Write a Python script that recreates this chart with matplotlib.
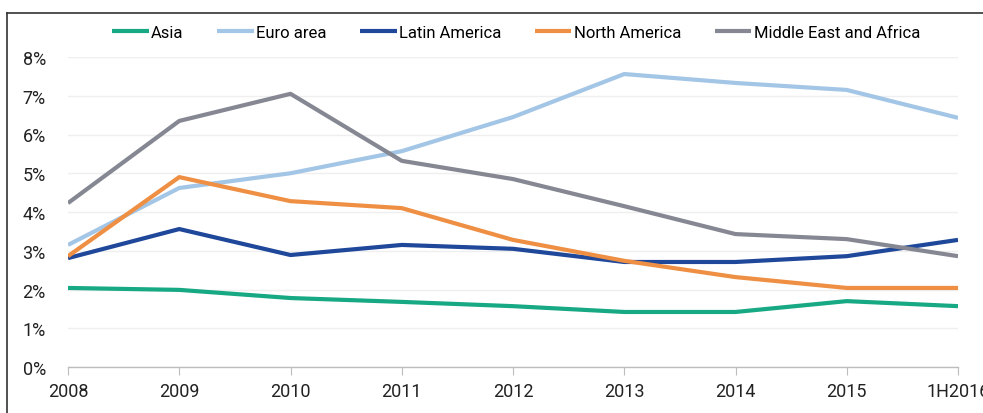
import matplotlib
matplotlib.use("Agg")
import matplotlib.pyplot as plt
from matplotlib.lines import Line2D

periods = ["2008", "2009", "2010", "2011", "2012", "2013", "2014", "2015", "1H2016"]
asia = [2.04, 1.99, 1.78, 1.68, 1.57, 1.42, 1.42, 1.70, 1.57]
euro_area = [3.15, 4.62, 5.00, 5.57, 6.45, 7.56, 7.33, 7.15, 6.43]
latin_america = [2.81, 3.56, 2.89, 3.15, 3.05, 2.71, 2.71, 2.86, 3.28]
north_america = [2.86, 4.90, 4.28, 4.10, 3.28, 2.74, 2.32, 2.04, 2.04]
mea = [4.23, 6.35, 7.05, 5.32, 4.85, 4.15, 3.43, 3.30, 2.86]
yticks = [0, 1, 2, 3, 4, 5, 6, 7, 8]

series = [
    ("Asia", asia, "#17a884"),
    ("Euro area", euro_area, "#a3c6e6"),
    ("Latin America", latin_america, "#1f479a"),
    ("North America", north_america, "#ee8f43"),
    ("Middle East and Africa", mea, "#858892"),
]

plt.rcParams['font.family'] = ['Roboto', 'DejaVu Sans']

fig = plt.figure(figsize=(9.83, 4.14), dpi=100)
ax = fig.add_axes([68/983, 46/414, (958-68)/983, (368-58)/414])

x = list(range(len(periods)))
for name, vals, col in series:
    ax.plot(x, vals, color=col, lw=3.0, label=name, solid_capstyle='butt', zorder=3)

ax.set_xlim(0, len(periods) - 1)
ax.set_ylim(0, 8)
ax.set_yticks(yticks)
ax.set_yticklabels([f"{v}%" for v in yticks])
ax.set_xticks(x)
ax.set_xticklabels(periods)
ax.grid(axis='y', color='#efefef', lw=1, zorder=0)
for s in ['top', 'right', 'left']:
    ax.spines[s].set_visible(False)
ax.spines['bottom'].set_color('#bdbdbd')
ax.spines['bottom'].set_linewidth(1)
ax.tick_params(axis='y', length=0, pad=16, labelsize=13, labelcolor='#222222')
ax.tick_params(axis='x', length=6, color='#bdbdbd', pad=5, labelsize=13, labelcolor='#222222')

fig.legend(loc='center', bbox_to_anchor=(0.525, 1 - 33/414), ncol=5, frameon=False,
           fontsize=12, handlelength=2.2, handletextpad=0.15, columnspacing=2.0)

fig.add_artist(Line2D([7/983, 7/983], [0, 1 - 14/414], color='#333333', lw=1.2))
fig.add_artist(Line2D([7/983, 1], [1 - 14/414, 1 - 14/414], color='#333333', lw=1.2))

fig.savefig("out.png", dpi=100)
